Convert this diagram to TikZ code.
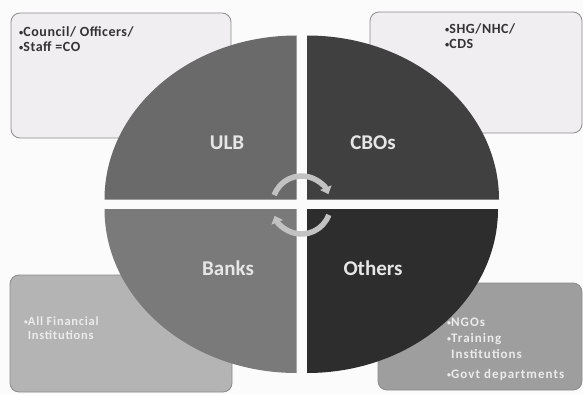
\documentclass[tikz,border=0pt]{standalone}
\usepackage{fontspec}
\setmainfont{Carlito}
\usetikzlibrary{arrows.meta}
\definecolor{bgc}{HTML}{FBFBFB}
\definecolor{ulbc}{HTML}{6A6A6A}
\definecolor{cboc}{HTML}{404040}
\definecolor{bankc}{HTML}{7A7A7A}
\definecolor{othc}{HTML}{2D2D2D}
\definecolor{lightbox}{HTML}{F0EEF0}
\definecolor{blbox}{HTML}{B4B4B4}
\definecolor{brbox}{HTML}{9E9E9E}
\definecolor{boxedge}{HTML}{8C8C8C}
\definecolor{labc}{HTML}{E6E6E6}
\definecolor{arrc}{HTML}{C2C2C2}
\newcommand\mybul{\raisebox{0.12ex}{\scalebox{0.6}{•}}}
\tikzset{
  infobox/.style={draw=boxedge, line width=0.8pt, rounded corners=9pt, inner sep=0pt},
  quadlabel/.style={font=\bfseries\fontsize{21}{23}\selectfont, text=labc, inner sep=0pt},
  darktext/.style={font=\bfseries\fontsize{14}{15}\selectfont\addfontfeatures{LetterSpace=4}, text=black!80, align=left, anchor=north west, inner sep=0pt},
  lighttext/.style={font=\bfseries\fontsize{12.5}{14}\selectfont\addfontfeatures{LetterSpace=6}, text=white!92!black, align=left, anchor=north west, inner sep=0pt},
  cyc/.style={draw=arrc, line width=5.5pt, -{Triangle[width=12pt,length=7pt]}}
}
\begin{document}
\begin{tikzpicture}[x=1pt,y=1pt]
\fill[bgc] (0,0) rectangle (583,394);
\useasboundingbox (0,0) rectangle (583,394);
% boxes
\node[infobox, fill=lightbox, minimum width=220pt, minimum height=125pt] (tl) at (121,318.5) {};
\node[infobox, fill=lightbox, minimum width=212pt, minimum height=121pt] (tr) at (476,321.5) {};
\node[infobox, fill=blbox, minimum width=222pt, minimum height=117pt] (bl) at (121,60.5) {};
\node[infobox, fill=brbox, minimum width=204pt, minimum height=107pt] (br) at (480,57.5) {};
% quadrants
\fill[ulbc] (296.5,194.5) -- (296.5,358.5) arc[start angle=90, end angle=180, x radius=192, y radius=164] -- cycle;
\fill[cboc] (307,194.5) -- (499,194.5) arc[start angle=0, end angle=90, x radius=192, y radius=164] -- cycle;
\fill[bankc] (296.5,185) -- (104.5,185) arc[start angle=180, end angle=270, x radius=192, y radius=164] -- cycle;
\fill[othc] (307,185) -- (307,21) arc[start angle=270, end angle=360, x radius=191, y radius=164] -- cycle;
% labels
\node[quadlabel] (ulb) at (227,251) {ULB};
\node[quadlabel] (cbo) at (373,251) {CBOs};
\node[quadlabel] (bank) at (228,126) {Banks};
\node[quadlabel] (oth) at (373,126) {Others};
% box texts
\node[darktext] (tltext) at (19,368) {\mybul Council/ Officers/\\\mybul Staff =CO};
\node[darktext] (trtext) at (445,371) {\mybul SHG/NHC/\\\mybul CDS};
\node[lighttext] (bltext) at (24,77.5) {\mybul All Financial\\\ Institutions};
\node[lighttext, font=\bfseries\fontsize{13}{16}\selectfont\addfontfeatures{LetterSpace=8}] (brtext) at (447,76.5) {\mybul NGOs\\\mybul Training\\\ Institutions\\[4pt]\mybul Govt departments};
% cycle arrows
\coordinate (cc) at (301.5,189);
\draw[cyc] ([shift={(160:29)}]cc) arc[start angle=160, end angle=22, radius=29];
\draw[cyc] ([shift={(-20:29)}]cc) arc[start angle=-20, end angle=-158, radius=29];
\end{tikzpicture}
\end{document}
